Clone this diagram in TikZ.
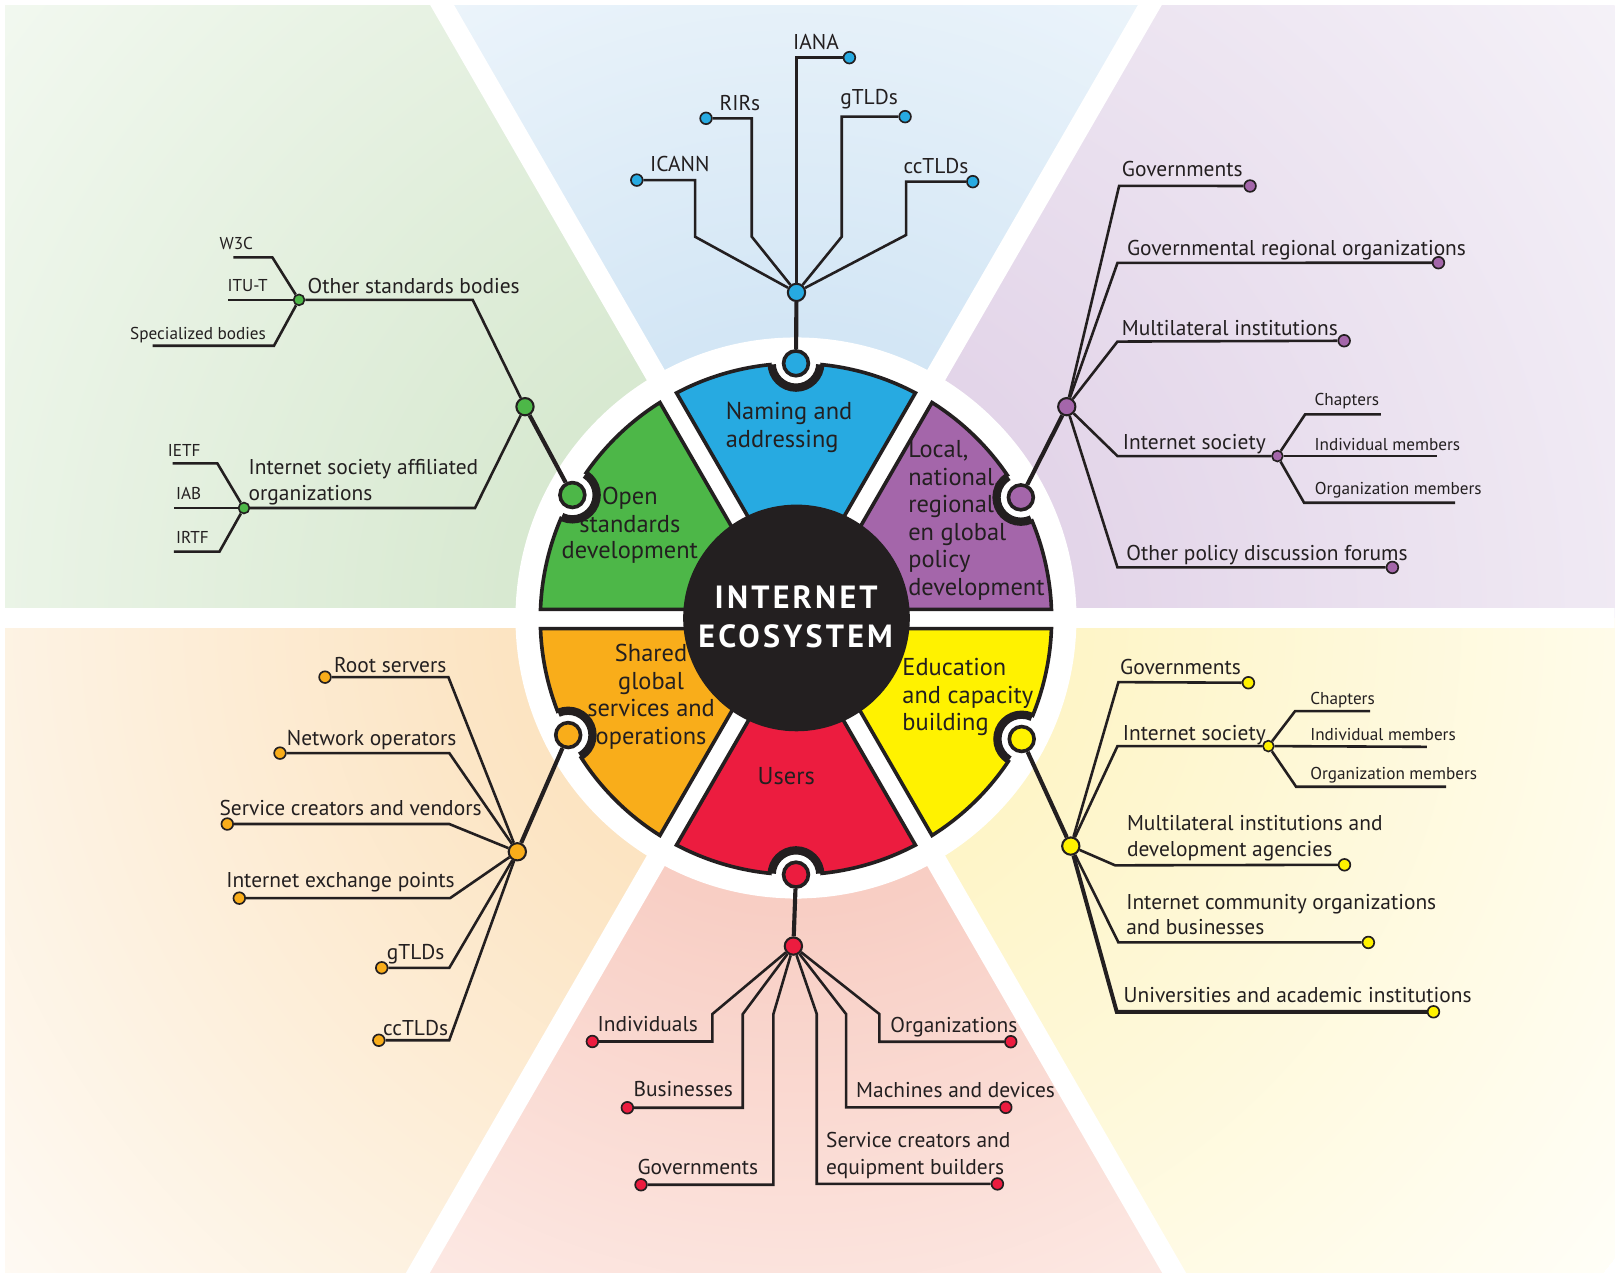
\documentclass[tikz,border=0pt]{standalone}
\usepackage{fontspec}
\setmainfont{PT Sans}
\usetikzlibrary{calc}
\definecolor{ink}{HTML}{231F20}
\definecolor{cblue}{HTML}{27AAE1}
\definecolor{cpurple}{HTML}{A466AA}
\definecolor{cyellow}{HTML}{FFF200}
\definecolor{cred}{HTML}{EC1C3F}
\definecolor{corange}{HTML}{F9AD1A}
\definecolor{cgreen}{HTML}{4DB748}
\definecolor{gA}{HTML}{D8E9D1}\definecolor{gB}{HTML}{F3F9F1}
\definecolor{bA}{HTML}{D3E6F5}\definecolor{bB}{HTML}{FFFFFF}
\definecolor{pA}{HTML}{E3D5E9}\definecolor{pB}{HTML}{F5F2F8}
\definecolor{yA}{HTML}{FEF5C8}\definecolor{yB}{HTML}{FFFEF7}
\definecolor{oA}{HTML}{FCE4C2}\definecolor{oB}{HTML}{FEFAF4}
\definecolor{rA}{HTML}{F8CEC4}\definecolor{rB}{HTML}{FFF9F7}
\pgfdeclareradialshading{shg}{\pgfpoint{0bp}{0bp}}{color(0bp)=(gA); color(280bp)=(gA); color(1000bp)=(gB)}
\pgfdeclareradialshading{shb}{\pgfpoint{0bp}{0bp}}{color(0bp)=(bA); color(280bp)=(bA); color(1000bp)=(bB)}
\pgfdeclareradialshading{shp}{\pgfpoint{0bp}{0bp}}{color(0bp)=(pA); color(280bp)=(pA); color(1000bp)=(pB)}
\pgfdeclareradialshading{shy}{\pgfpoint{0bp}{0bp}}{color(0bp)=(yA); color(280bp)=(yA); color(1000bp)=(yB)}
\pgfdeclareradialshading{sho}{\pgfpoint{0bp}{0bp}}{color(0bp)=(oA); color(280bp)=(oA); color(1000bp)=(oB)}
\pgfdeclareradialshading{shr}{\pgfpoint{0bp}{0bp}}{color(0bp)=(rA); color(280bp)=(rA); color(1000bp)=(rB)}
\newcommand\lblfont{\fontsize{20.7}{24}\selectfont}
\newcommand\smlfont{\fontsize{16.6}{19}\selectfont}
\newcommand\segfont{\fontsize{23.6}{27}\selectfont}
\newcommand\ctrfont{\fontsize{31}{36}\selectfont\bfseries\addfontfeature{LetterSpace=10}}
\newcommand\segpath[3]{({769+18.5*cos(#3)},{598+18.5*sin(#3)}) -- plot[domain=#1:#2, samples=60] ({769+247*cos(\x)},{598+247*sin(\x)}) -- cycle}
\newcommand\notch[3]{%
  \fill[white] (#3) circle (23.5);
  \begin{scope}\clip \segpath{#1}{#2}{0}; \draw[ink, line width=8pt] (#3) circle (23.5);\end{scope}}
\tikzset{
  lab/.style={inner sep=0pt, anchor=base west, text=ink, font=\lblfont},
  slab/.style={inner sep=0pt, anchor=base west, text=ink, font=\smlfont},
  seg/.style={inner sep=0pt, anchor=base west, text=ink, font=\segfont},
  segc/.style={seg, anchor=base},
  br/.style={draw=ink, line width=2.5pt, line join=miter},
  brk/.style={draw=ink, line width=3.8pt, line join=miter},
  conn/.style={draw=ink, line width=4pt},
  sdot/.style={circle, draw=ink, line width=1.6pt, minimum size=11.3pt, inner sep=0pt},
  subdot/.style={circle, draw=ink, line width=1.6pt, minimum size=10.5pt, inner sep=0pt},
  hubdot/.style={circle, draw=ink, line width=2pt, minimum size=16.7pt, inner sep=0pt},
  wdot/.style={circle, draw=ink, line width=3.5pt, minimum size=24pt, inner sep=0pt},
  sector/.style={draw=ink, line width=3.5pt, line join=miter},
  shadebox/.style={inner sep=0pt, outer sep=0pt},
}
\begin{document}
\begin{tikzpicture}[x=1pt,y=-1pt]
\useasboundingbox (0,0) rectangle (1568,1229);
\coordinate (C) at (769,597);
% ---------- background panels
\begin{scope}
\clip (5,5) rectangle (1560,1229);
\begin{scope}\clip (C) -- (0,597) -- (0,0) -- (424.3,0) -- cycle; \node[shadebox] (bgg) at (C) {\pgfuseshading{shg}};\end{scope}
\begin{scope}\clip (C) -- (424.3,0) -- (1113.7,0) -- cycle; \node[shadebox] (bgb) at (C) {\pgfuseshading{shb}};\end{scope}
\begin{scope}\clip (C) -- (1113.7,0) -- (1570,0) -- (1570,597) -- cycle; \node[shadebox] (bgp) at (C) {\pgfuseshading{shp}};\end{scope}
\begin{scope}\clip (C) -- (1570,597) -- (1570,1240) -- (1140.2,1240) -- cycle; \node[shadebox] (bgy) at (C) {\pgfuseshading{shy}};\end{scope}
\begin{scope}\clip (C) -- (1140.2,1240) -- (397.8,1240) -- cycle; \node[shadebox] (bgr) at (C) {\pgfuseshading{shr}};\end{scope}
\begin{scope}\clip (C) -- (397.8,1240) -- (0,1240) -- (0,597) -- cycle; \node[shadebox] (bgo) at (C) {\pgfuseshading{sho}};\end{scope}
\draw[white, line width=20pt] (0,597) -- (1570,597);
\draw[white, line width=20pt] ($(C)+(-60:1300)$) -- ($(C)+(120:1300)$);
\draw[white, line width=20pt] ($(C)+(-120:1300)$) -- ($(C)+(60:1300)$);
\end{scope}
\fill[white] (C) circle (271);
% ---------- wheel
\coordinate (pb) at ($(769,598)+(-90:247)$);
\coordinate (pp) at ($(769,598)+(-28.4:247)$);
\coordinate (py) at ($(769,598)+(28:247)$);
\coordinate (pr) at ($(769,598)+(90:247)$);
\coordinate (po) at ($(769,598)+(153:247)$);
\coordinate (pg) at ($(769,598)+(209:247)$);
\path[sector, fill=cblue] \segpath{-117.85}{-62.15}{-90};
\path[sector, fill=cpurple] \segpath{-57.85}{-2.15}{-30};
\path[sector, fill=cyellow] \segpath{2.15}{57.85}{30};
\path[sector, fill=cred] \segpath{62.15}{117.85}{90};
\path[sector, fill=corange] \segpath{122.15}{177.85}{150};
\path[sector, fill=cgreen] \segpath{182.15}{237.85}{210};
\notch{-117.85}{-62.15}{pb}
\notch{-57.85}{-2.15}{pp}
\notch{2.15}{57.85}{py}
\notch{62.15}{117.85}{pr}
\notch{122.15}{177.85}{po}
\notch{182.15}{237.85}{pg}
\node[circle, fill=ink, minimum size=219pt, inner sep=0pt] (core) at (769.5,597) {};
\node[inner sep=0pt, anchor=base, text=white, font=\ctrfont] (ct1) at (769.2,588.3) {INTERNET};
\node[inner sep=0pt, anchor=base, text=white, font=\ctrfont] (ct2) at (768.7,626) {ECOSYSTEM};
% segment texts
\node[seg] (sb1) at (701,405.4) {Naming and};
\node[seg] (sb2) at (701,432) {addressing};
\node[seg] (sp1) at (877.3,441.9) {Local,};
\node[seg] (sp2) at (877.3,468.6) {national,};
\node[seg] (sp3) at (877.3,495.1) {regional};
\node[seg] (sp4) at (877.3,521.8) {en global};
\node[seg] (sp5) at (877.3,548.4) {policy};
\node[seg] (sp6) at (877.3,575) {development};
\node[segc] (sg1) at (608.5,487.5) {Open};
\node[segc] (sg2) at (608.5,514.2) {standards};
\node[segc] (sg3) at (608.5,539.4) {development};
\node[segc] (so1) at (629,639.2) {Shared};
\node[segc] (so2) at (629,665.9) {global};
\node[segc] (so3) at (629,692.4) {services and};
\node[segc] (so4) at (629,719.1) {operations};
\node[seg] (sy1) at (871.7,652.5) {Education};
\node[seg] (sy2) at (871.7,679.2) {and capacity};
\node[seg] (sy3) at (871.7,705.8) {building};
\node[segc] (sr1) at (759.6,758) {Users};
% ---------- blue tree
\node[wdot, fill=cblue] (wb) at (pb) {};
\node[hubdot, fill=cblue] (hb) at (769.5,282.5) {};
\node[sdot, fill=cblue] (b1) at (615.2,174) {};
\node[sdot, fill=cblue] (b2) at (682.1,114.3) {};
\node[sdot, fill=cblue] (b3) at (820.6,55.7) {};
\node[sdot, fill=cblue] (b4) at (874.4,112.7) {};
\node[sdot, fill=cblue] (b5) at (939.8,175.5) {};
\draw[conn] (wb) -- (hb);
\draw[br] (hb) -- (671.5,228.7) -- (671.5,174) -- (b1);
\draw[br] (hb) -- (726.3,228.7) -- (726.3,114.3) -- (b2);
\draw[br] (hb) -- (769.5,55.7) -- (b3);
\draw[br] (hb) -- (813.2,228.7) -- (813.2,112.7) -- (b4);
\draw[br] (hb) -- (875.4,227) -- (875.4,175.5) -- (b5);
\node[lab] (tb1) at (628,165.7) {ICANN};
\node[lab] (tb2) at (695,107) {RIRs};
\node[lab] (tb3) at (766,47.5) {IANA};
\node[lab] (tb4) at (811.6,101) {gTLDs};
\node[lab] (tb5) at (872.8,168) {ccTLDs};
% ---------- green tree
\node[wdot, fill=cgreen] (wg) at (pg) {};
\node[hubdot, fill=cgreen] (hg) at (507.2,392.9) {};
\node[subdot, fill=cgreen] (g1) at (288.9,289.7) {};
\node[subdot, fill=cgreen] (g2) at (235.7,490.8) {};
\coordinate (gw3c) at (225.4,248.6);
\coordinate (gitu) at (220.6,289.7);
\coordinate (gspec) at (147.5,334);
\coordinate (gietf) at (166.8,447.7);
\coordinate (giab) at (168.1,490.8);
\coordinate (girtf) at (168,533);
\draw[conn] (wg) -- (hg);
\draw[br] (hg) -- (456.7,289.7) -- (g1);
\draw[br] (hg) -- (458.9,490.8) -- (g2);
\draw[br] (g1) -- (263.1,248.6) -- (gw3c);
\draw[br] (g1) -- (gitu);
\draw[br] (g1) -- (264.7,334) -- (gspec);
\draw[br] (g2) -- (210,447.7) -- (gietf);
\draw[br] (g2) -- (giab);
\draw[br] (g2) -- (212,533) -- (girtf);
\node[lab] (tg1) at (297,283.5) {Other standards bodies};
\node[lab] (tg2) at (240,458) {Internet society affiliated};
\node[lab] (tg2b) at (240,483.8) {organizations};
\node[slab] (tg3) at (212,240.8) {W3C};
\node[slab] (tg4) at (219.6,282) {ITU-T};
\node[slab] (tg5) at (125.6,327.8) {Specialized bodies};
\node[slab] (tg6) at (162,440.6) {IETF};
\node[slab] (tg7) at (170,482.4) {IAB};
\node[slab] (tg8) at (170,525.5) {IRTF};
% ---------- purple tree
\node[wdot, fill=cpurple] (wp) at (pp) {};
\node[hubdot, fill=cpurple] (hp) at (1030.6,392.9) {};
\node[sdot, fill=cpurple] (p1) at (1207.7,179.7) {};
\node[sdot, fill=cpurple] (p2) at (1389.7,253.8) {};
\node[sdot, fill=cpurple] (p3) at (1298.6,329.2) {};
\node[subdot, fill=cpurple] (ps) at (1234.1,440.6) {};
\node[sdot, fill=cpurple] (p5) at (1345.2,548.2) {};
\coordinate (pc1) at (1334,400.3);
\coordinate (pc2) at (1388,440.6);
\coordinate (pc3) at (1405.8,485.7);
\draw[conn] (wp) -- (hp);
\draw[br] (hp) -- (1081.2,179.5) -- (p1);
\draw[br] (hp) -- (1079.6,254) -- (p2);
\draw[br] (hp) -- (1079.6,330) -- (p3);
\draw[br] (hp) -- (1079.6,440.6) -- (ps);
\draw[br] (hp) -- (1079.6,548.2) -- (p5);
\draw[br] (ps) -- (1260.9,400.3) -- (pc1);
\draw[br] (ps) -- (pc2);
\draw[br] (ps) -- (1259.9,485.7) -- (pc3);
\node[lab] (tp1) at (1083.7,170.8) {Governments};
\node[lab] (tp2) at (1088.6,247.1) {Governmental regional organizations};
\node[lab] (tp3) at (1083.7,324.4) {Multilateral institutions};
\node[lab] (tp4) at (1084.7,433.9) {Internet society};
\node[slab] (tp5) at (1269.9,391.5) {Chapters};
\node[slab] (tp6) at (1269.9,435) {Individual members};
\node[slab] (tp7) at (1270,477.5) {Organization members};
\node[lab] (tp8) at (1088,541.2) {Other policy discussion forums};
% ---------- yellow tree
\node[wdot, fill=cyellow] (wy) at (py) {};
\node[hubdot, fill=cyellow] (hy) at (1034.5,817.4) {};
\node[sdot, fill=cyellow] (y1) at (1206.1,659.6) {};
\node[subdot, fill=cyellow] (ys) at (1225.4,720.8) {};
\node[sdot, fill=cyellow] (y3) at (1298.9,835.5) {};
\node[sdot, fill=cyellow] (y4) at (1322,910.5) {};
\node[sdot, fill=cyellow] (y5) at (1384.9,977.5) {};
\coordinate (yc1) at (1323.7,687);
\coordinate (yc2) at (1378.4,721.5);
\coordinate (yc3) at (1397.1,760.1);
\draw[conn] (wy) -- (hy);
\draw[br] (hy) -- (1080.5,659) -- (y1);
\draw[br] (hy) -- (1079.6,720.8) -- (ys);
\draw[br] (hy) -- (1077.3,836) -- (y3);
\draw[br] (hy) -- (1080.5,910.5) -- (y4);
\draw[brk] (hy) -- (1078.9,977.5) -- (y5);
\draw[br] (ys) -- (1251.2,687) -- (yc1);
\draw[br] (ys) -- (yc2);
\draw[br] (ys) -- (1252.2,760.1) -- (yc3);
\node[lab] (ty1) at (1082,651.3) {Governments};
\node[lab] (ty2) at (1084.7,715.1) {Internet society};
\node[slab] (ty3) at (1265.7,680.4) {Chapters};
\node[slab] (ty4) at (1265.7,715.7) {Individual members};
\node[slab] (ty5) at (1265.7,752.9) {Organization members};
\node[lab] (ty6) at (1088.6,802) {Multilateral institutions and};
\node[lab] (ty6b) at (1088.6,827.8) {development agencies};
\node[lab] (ty7) at (1087.9,878.4) {Internet community organizations};
\node[lab] (ty7b) at (1087.9,903.2) {and businesses};
\node[lab] (ty8) at (1085.3,968.6) {Universities and academic institutions};
% ---------- orange tree
\node[wdot, fill=corange] (wo) at (po) {};
\node[hubdot, fill=corange] (ho) at (499.8,822.9) {};
\node[sdot, fill=corange] (o1) at (314,654.2) {};
\node[sdot, fill=corange] (o2) at (270.5,727.6) {};
\node[sdot, fill=corange] (o3) at (219.6,796.1) {};
\node[sdot, fill=corange] (o4) at (231.2,867.7) {};
\node[sdot, fill=corange] (o5) at (368.8,935) {};
\node[sdot, fill=corange] (o6) at (366,1005) {};
\draw[conn] (wo) -- (ho);
\draw[br] (ho) -- (433.2,654.2) -- (o1);
\draw[br] (ho) -- (434.1,727.6) -- (o2);
\draw[br] (ho) -- (434.1,796.1) -- (o3);
\draw[br] (ho) -- (434.8,867.7) -- (o4);
\draw[br] (ho) -- (434.1,935) -- (o5);
\draw[br] (ho) -- (434,1005) -- (o6);
\node[lab] (to1) at (322.7,649.7) {Root servers};
\node[lab] (to2) at (277,720.6) {Network operators};
\node[lab] (to3) at (211.9,788.2) {Service creators and vendors};
\node[lab] (to4) at (218.4,857.4) {Internet exchange points};
\node[lab] (to5) at (373.6,926.7) {gTLDs};
\node[lab] (to6) at (370,1000) {ccTLDs};
% ---------- red tree
\node[wdot, fill=cred] (wr) at (pr) {};
\node[hubdot, fill=cred] (hr) at (766.5,914) {};
\node[sdot, fill=cred] (r1) at (572.3,1006.2) {};
\node[sdot, fill=cred] (r2) at (606.1,1070.2) {};
\node[sdot, fill=cred] (r3) at (619.3,1144.6) {};
\node[sdot, fill=cred] (r4) at (963.6,1143.8) {};
\node[sdot, fill=cred] (r5) at (971.7,1069.8) {};
\node[sdot, fill=cred] (r6) at (976.5,1006.4) {};
\draw[conn] (wr) -- (hr);
\draw[br] (hr) -- (688.2,979.7) -- (688.2,1006.2) -- (r1);
\draw[br] (hr) -- (717.6,979.7) -- (717.6,1070.2) -- (r2);
\draw[br] (hr) -- (747.2,979.7) -- (747.2,1144.6) -- (r3);
\draw[br] (hr) -- (789.1,979.7) -- (789.1,1143.8) -- (r4);
\draw[br] (hr) -- (817.4,979.7) -- (817.4,1069.8) -- (r5);
\draw[br] (hr) -- (849.6,979.7) -- (849.6,1006.4) -- (r6);
\node[lab] (tr1) at (577.1,996.6) {Individuals};
\node[lab] (tr2) at (611.9,1059.7) {Businesses};
\node[lab] (tr3) at (615.8,1134.4) {Governments};
\node[lab] (tr4) at (798,1108.6) {Service creators and};
\node[lab] (tr4b) at (798,1134.4) {equipment builders};
\node[lab] (tr5) at (827,1060.2) {Machines and devices};
\node[lab] (tr6) at (860,997.5) {Organizations};
\end{tikzpicture}
\end{document}
